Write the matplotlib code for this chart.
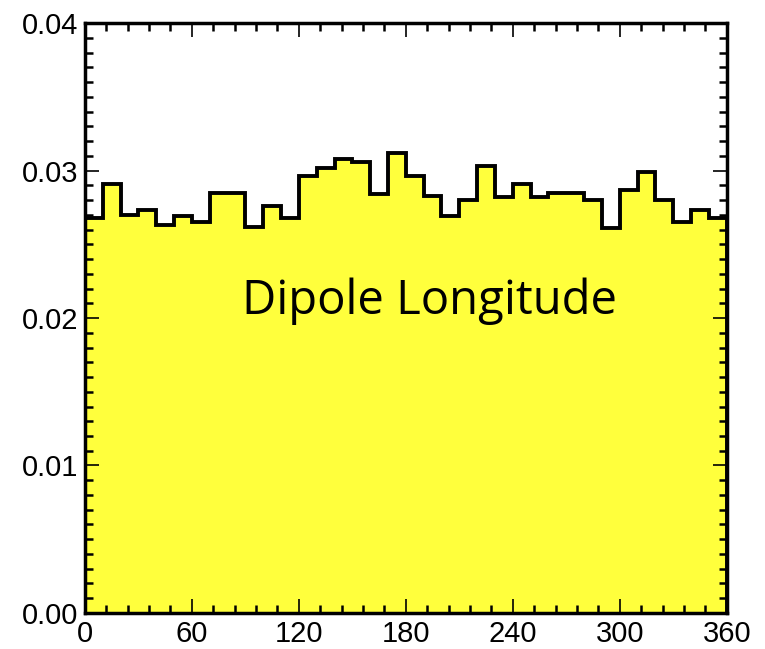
import numpy as np
import matplotlib.pyplot as plt
from matplotlib.ticker import MultipleLocator

# bin edges in degrees and normalised counts
bin_edges = np.arange(0, 361, 10)
freq = [0.0268, 0.0291, 0.0270, 0.0273, 0.0263, 0.0269, 0.0265, 0.0285, 0.0285,
        0.0262, 0.0276, 0.0268, 0.0296, 0.0302, 0.0308, 0.0306, 0.0284, 0.0312,
        0.0296, 0.0283, 0.0269, 0.0280, 0.0303, 0.0282, 0.0291, 0.0282, 0.0285,
        0.0285, 0.0280, 0.0261, 0.0287, 0.0299, 0.0280, 0.0265, 0.0273, 0.0268]
x_ticks = [0, 60, 120, 180, 240, 300, 360]
y_ticks = [0.00, 0.01, 0.02, 0.03, 0.04]
title = 'Dipole Longitude'

fig = plt.figure(figsize=(7.65, 6.49), dpi=100)
ax = fig.add_axes([0.111, 0.0555, 0.839, 0.909])

ax.stairs(freq, bin_edges, fill=True, color='#ffff3c', zorder=1)
ax.stairs(freq, bin_edges, color='black', linewidth=2.8, zorder=2)

ax.set_xlim(0, 360)
ax.set_ylim(0, 0.04)
ax.set_xticks(x_ticks)
ax.set_yticks(y_ticks)
ax.set_yticklabels(['%.2f' % v for v in y_ticks])
ax.xaxis.set_minor_locator(MultipleLocator(12))
ax.yaxis.set_minor_locator(MultipleLocator(0.001))

ax.tick_params(which='both', direction='in', top=True, right=True,
               color='black', zorder=3)
ax.tick_params(which='major', length=10, width=1.2, labelsize=21, pad=5)
ax.tick_params(which='minor', length=6, width=1.8)
for lab in ax.get_xticklabels() + ax.get_yticklabels():
    lab.set_family(['Liberation Sans', 'DejaVu Sans'])

for s in ax.spines.values():
    s.set_linewidth(2.5)
    s.set_zorder(4)

ax.text(0.537, 0.529, title, transform=ax.transAxes, ha='center', va='center',
        fontsize=34, family=['Open Sans', 'DejaVu Sans'], zorder=5)

fig.savefig('out.png', dpi=100)
